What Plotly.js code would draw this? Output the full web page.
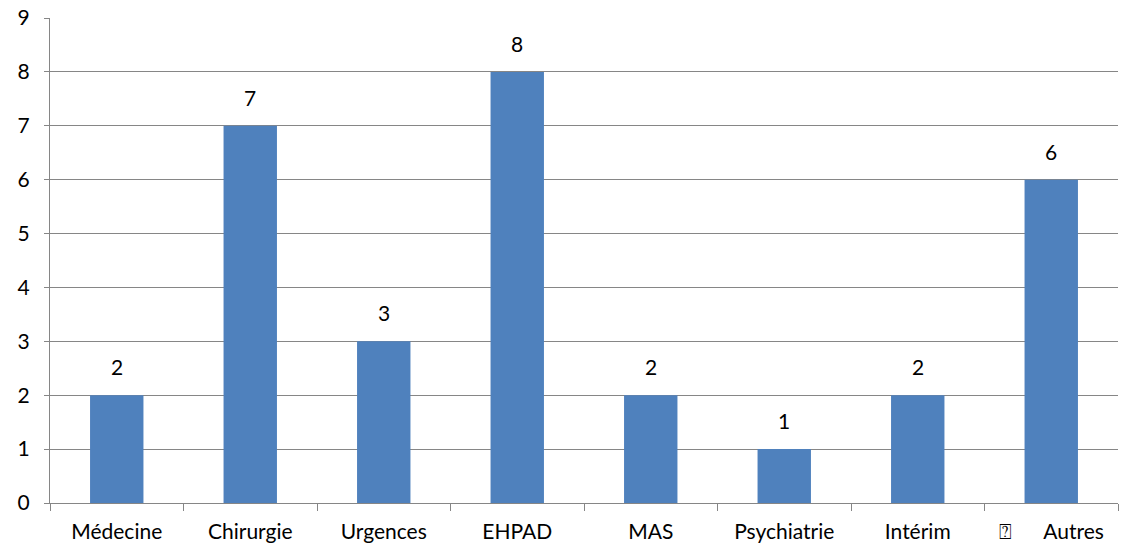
<!DOCTYPE html>
<html><head><meta charset="utf-8">
<script src="https://cdn.plot.ly/plotly-3.0.1.min.js"></script>
<style>html,body{margin:0;padding:0;background:#fff}#c{width:1123px;height:550px}</style>
</head><body><div id="c"></div>
<script>
const categories = ["Médecine","Chirurgie","Urgences","EHPAD","MAS","Psychiatrie","Intérim","\u2370      Autres"];
const values = [2,7,3,8,2,1,2,6];
const yTicks = [0,1,2,3,4,5,6,7,8,9];

const FONT = 'Lato, "Open Sans", sans-serif';
const trace = {
  type: 'bar', x: categories, y: values,
  marker: {color: '#4F81BD'},
  hoverinfo: 'none'
};
const annotations = categories.map((c, i) => ({
  x: c, y: values[i], xref: 'x', yref: 'y', text: String(values[i]),
  showarrow: false, yanchor: 'bottom', yshift: 14,
  font: {family: FONT, size: 21, color: '#000'}
}));
const layout = {
  width: 1123, height: 550,
  margin: {l: 50, r: 5, t: 18, b: 47},
  paper_bgcolor: '#fff', plot_bgcolor: '#fff',
  bargap: 0.6, showlegend: false,
  font: {family: FONT, size: 21, color: '#000'},
  annotations: annotations,
  xaxis: {
    type: 'category', tickson: 'boundaries', ticks: 'outside', ticklen: 7,
    tickcolor: '#868686', tickwidth: 1, showline: true, linecolor: '#868686', linewidth: 1,
    showgrid: false, tickfont: {size: 21}, ticklabelstandoff: 10
  },
  yaxis: {
    range: [0, 9], tickvals: yTicks, ticks: 'outside', ticklen: 5, tickcolor: '#868686',
    showline: true, linecolor: '#868686', linewidth: 1,
    showgrid: true, gridcolor: '#868686', gridwidth: 1, zeroline: false,
    tickfont: {size: 21}, ticklabelstandoff: 10
  }
};
Plotly.newPlot('c', [trace], layout, {staticPlot: true});
</script></body></html>
